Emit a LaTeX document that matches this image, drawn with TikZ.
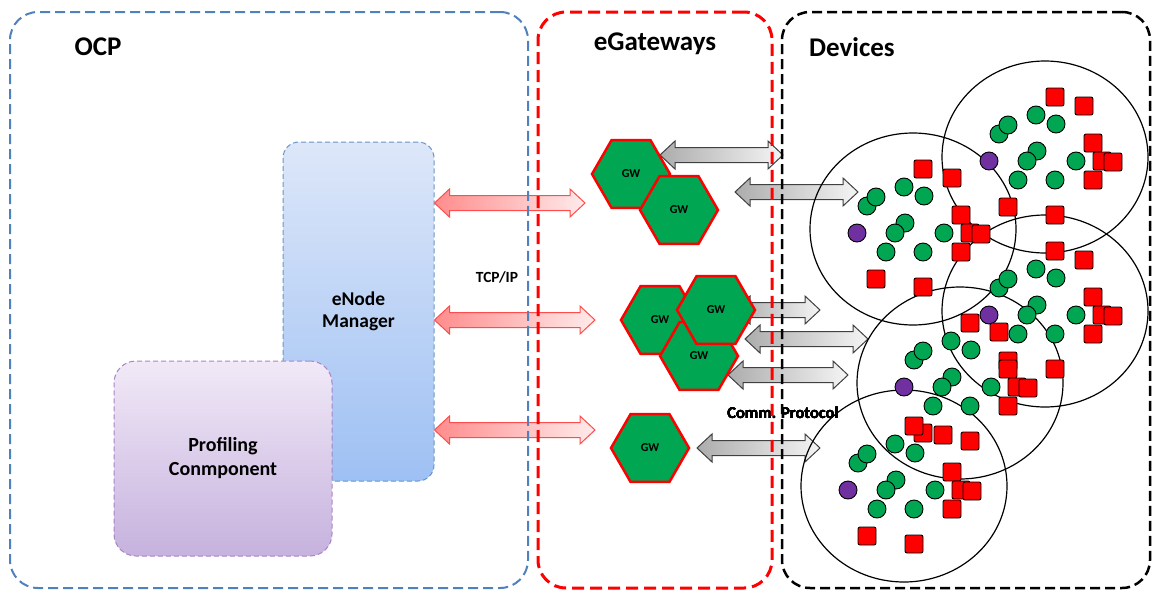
\documentclass[tikz,border=0pt]{standalone}
\usepackage{fontspec}
\setmainfont{Carlito}
\usetikzlibrary{shapes.geometric,calc,positioning}
\definecolor{ocpblue}{HTML}{4F81BD}
\definecolor{gwred}{HTML}{FF0000}
\definecolor{gwgreen}{HTML}{00A651}
\definecolor{devpurple}{HTML}{7030A0}
\definecolor{mgrtop}{HTML}{DDE7F9}
\definecolor{mgrbot}{HTML}{9EC0F3}
\definecolor{proftop}{HTML}{F1E9F7}
\definecolor{profbot}{HTML}{C6B2DE}
\definecolor{inkgray}{HTML}{404040}

\pgfdeclarelayer{front}
\pgfsetlayers{main,front}

% fat double arrow between two points on one line
\newcommand{\fatarrow}[3]{%
  \path[#1] let \p1=#2, \p2=#3 in
    (\x1,\y1) -- (\x1+15pt,\y1+14pt) -- (\x1+15pt,\y1+7.5pt)
    -- (\x2-15pt,\y1+7.5pt) -- (\x2-15pt,\y1+14pt) -- (\x2,\y1)
    -- (\x2-15pt,\y1-14pt) -- (\x2-15pt,\y1-7.5pt)
    -- (\x1+15pt,\y1-7.5pt) -- (\x1+15pt,\y1-14pt) -- cycle;}

\begin{document}
\begin{tikzpicture}[
    x=1pt, y=-1pt,
    font=\bfseries,
    panel/.style={rounded corners=28pt, minimum height=576pt, inner sep=0pt},
    title/.style={font=\fontsize{27}{30}\selectfont\bfseries},
    mgrbox/.style={draw=ocpblue!85, line width=1pt, dash pattern=on 5pt off 3pt, rounded corners=16pt,
        top color=mgrtop, bottom color=mgrbot, minimum width=151pt, minimum height=339pt,
        align=center, font=\fontsize{19.5}{22}\selectfont\bfseries},
    profbox/.style={draw=devpurple!60, line width=1pt, dash pattern=on 5pt off 3pt, rounded corners=22pt,
        top color=proftop, bottom color=profbot, minimum width=218pt, minimum height=195pt,
        align=center, font=\fontsize{20}{24}\selectfont\bfseries},
    gw/.style={regular polygon, regular polygon sides=6, minimum size=78pt, inner sep=0pt,
        fill=gwgreen, draw=gwred, line width=2.5pt, font=\fontsize{12}{14}\selectfont\bfseries},
    redbar/.style={draw=red!70, line width=1pt, left color=red!45, right color=red!8},
    graybar/.style={draw=inkgray, line width=1pt, left color=gray!65, right color=gray!8},
    label/.style={font=\fontsize{15.5}{18}\selectfont\bfseries},
    ring/.style={draw=black, line width=1.2pt},
    sensor/.style={draw=black, line width=0.9pt, fill=gwgreen},
    head/.style={draw=black, line width=0.9pt, fill=devpurple},
    cell/.style={draw=black, line width=0.9pt, fill=gwred, rounded corners=2pt},
]
    \fill[white] (0,0) rectangle (1157,592);
    \useasboundingbox (0,0) rectangle (1157,592);

    % frames sit on top of everything
    \begin{pgfonlayer}{front}
        \node[panel, draw=ocpblue, line width=2pt, dash pattern=on 10pt off 5pt, minimum width=518pt] (ocp) at (269,300) {};
        \node[panel, draw=gwred, line width=3pt, dash pattern=on 12pt off 6pt, minimum width=234pt] (egw) at (655,300) {};
        \node[panel, draw=black, line width=2.5pt, dash pattern=on 10pt off 5pt, minimum width=368pt] (dev) at (966,300) {};
    \end{pgfonlayer}

    \node[title] (ocpt) at (98,47) {OCP};
    \node[title] (egwt) at (655,44) {eGateways};
    \node[title] (devt) at (852,47) {Devices};

    % OCP side
    \node[mgrbox] (mgr) at (358.5,311.5) {eNode\\Manager};
    \node[profbox] (prof) at (223,458.5) {Profiling\\Conmponent};

    % TCP/IP links
    \coordinate (t1) at (585,203);
    \coordinate (t2) at (595,320);
    \coordinate (t3) at (595,430);
    \fatarrow{redbar}{(mgr.east |- t1)}{(t1)}
    \fatarrow{redbar}{(mgr.east |- t2)}{(t2)}
    \fatarrow{redbar}{(mgr.east |- t3)}{(t3)}
    \node[label] (tcp) at (497,277) {TCP/IP};

    % gateway to device links
    \coordinate (a1) at (660,155); \coordinate (b1) at (783,155);
    \coordinate (a2) at (735,192); \coordinate (b2) at (858,192);
    \coordinate (a3) at (735,310); \coordinate (b3) at (820,310);
    \coordinate (a4) at (745,339); \coordinate (b4) at (868,339);
    \coordinate (a5) at (728,375); \coordinate (b5) at (848,375);
    \coordinate (a6) at (697,448); \coordinate (b6) at (820,448);
    \foreach \i in {1,...,6}
        \fatarrow{graybar}{(a\i)}{(b\i)}
    \node[label, font=\fontsize{16.5}{19}\selectfont\bfseries] (comm) at (783,413) {Comm. Protocol};

    % gateways
    \node[gw] (gw1) at (631,174) {GW};
    \node[gw] (gw2) at (679,210) {GW};
    \node[gw] (gw3) at (660,320) {GW};
    \node[gw] (gw4) at (699,356) {GW};
    \node[gw] (gw5) at (716,310) {GW};
    \node[gw] (gw6) at (650,448) {GW};

    % device clusters
    \coordinate (c1) at (913,229);
    \coordinate (c2) at (1045,157);
    \coordinate (c3) at (1045,311);
    \coordinate (c4) at (960,383);
    \coordinate (c5) at (904,486);
    \foreach \c in {c1,c2,c3,c4,c5}
        \draw[ring] (\c) ellipse [x radius=103, y radius=96];
    \foreach \c in {c2,c1,c3,c4,c5} {
        \begin{scope}[shift={(\c)}]
            \foreach \sx/\sy in {-46/-23,-37/-32,-9/-42,11/-33,-8/-6,-18/4,31/4,-27/23,10/23}
                \draw[sensor] (\sx,\sy) circle [radius=9];
            \draw[head] (-56,4) circle [radius=9];
            \foreach \sx/\sy in {10/-60,39/-51,48/-14,48/23,57/4,68/5,-37/50,10/58}
                \draw[cell] (\sx-9,\sy-9) rectangle (\sx+9,\sy+9);
        \end{scope}
    }
\end{tikzpicture}
\end{document}
